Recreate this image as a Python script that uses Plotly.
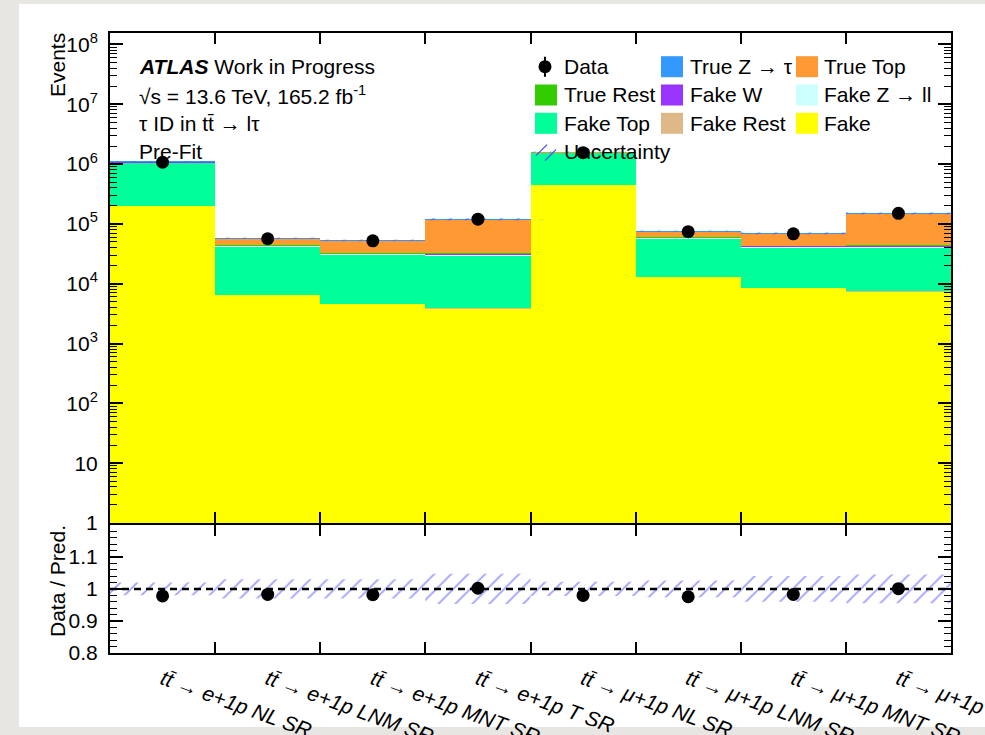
import plotly.graph_objects as go

# ---------------- data ----------------
categories = [
    "tt̄ → e+1p NL SR", "tt̄ → e+1p LNM SR", "tt̄ → e+1p MNT SR", "tt̄ → e+1p T SR",
    "tt̄ → μ+1p NL SR", "tt̄ → μ+1p LNM SR", "tt̄ → μ+1p MNT SR", "tt̄ → μ+1p T SR",
]
fake = [2.0e5, 6500, 4600, 3800, 4.5e5, 13000, 8500, 7400]
fake_rest = [1500, 80, 60, 50, 3000, 150, 100, 90]
fake_top = [8.55e5, 35000, 26000, 26000, 1.085e6, 43000, 32000, 33000]
fake_zll = [6000, 1500, 1200, 1200, 8000, 2000, 1500, 1500]
fake_w = [20000, 900, 700, 700, 25000, 1200, 900, 900]
true_rest = [500, 300, 300, 600, 600, 300, 300, 700]
true_top = [12000, 13000, 20000, 87000, 10000, 16000, 26000, 106000]
true_ztau = [300, 100, 100, 200, 400, 100, 100, 200]
data = [1071200, 56400, 52000, 119800, 1550000, 73900, 68200, 149900]
unc_rel = [0.02, 0.03, 0.03, 0.047, 0.022, 0.026, 0.04, 0.045]

y_tick_vals = [1, 10, 1e2, 1e3, 1e4, 1e5, 1e6, 1e7, 1e8]
y_tick_text = ["1", "10", "10<sup>2</sup>", "10<sup>3</sup>", "10<sup>4</sup>", "10<sup>5</sup>",
               "10<sup>6</sup>", "10<sup>7</sup>", "10<sup>8</sup>"]
ratio_tick_vals = [0.8, 0.9, 1.0, 1.1]
ratio_tick_text = ["0.8", "0.9", "1", "1.1"]

# stacking order (bottom -> top)
samples = [
    ("Fake", fake, "#ffff00"),
    ("Fake Rest", fake_rest, "#deb887"),
    ("Fake Top", fake_top, "#00ff99"),
    ("Fake Z → ll", fake_zll, "#ccffff"),
    ("Fake W", fake_w, "#9933ff"),
    ("True Rest", true_rest, "#33cc00"),
    ("True Top", true_top, "#ff9933"),
    ("True Z → τ", true_ztau, "#3399ff"),
]

n = len(categories)
xs = list(range(n))
total = [sum(s[1][i] for s in samples) for i in range(n)]
ratio = [data[i] / total[i] for i in range(n)]

# ---------------- geometry helpers ----------------
W, H = 985, 735
L, R, T, B = 110, 951, 33, 653


def fx(px):
    return (px - L) / (R - L)


def fy(py):
    return (B - py) / (B - T)


FONT = "Liberation Sans, Arial, Helvetica, sans-serif"
HATCH = "#4848ff"
PATTERN = dict(shape="/", fgcolor=HATCH, size=12, solidity=0.16, fillmode="overlay")

fig = go.Figure()

for name, vals, col in samples:
    fig.add_trace(go.Bar(x=xs, y=vals, name=name, marker=dict(color=col, line=dict(width=0)),
                         width=1.0, xaxis="x", yaxis="y", showlegend=False))

# uncertainty band on main panel
bx, by = [], []
for i in range(n):
    lo, hi = total[i] * (1 - unc_rel[i]), total[i] * (1 + unc_rel[i])
    bx += [i - 0.5, i + 0.5, i + 0.5, i - 0.5, i - 0.5, None]
    by += [lo, lo, hi, hi, lo, None]
fig.add_trace(go.Scatter(x=bx, y=by, mode="lines", fill="toself", fillcolor="rgba(0,0,0,0)",
                         line=dict(width=0), xaxis="x", yaxis="y", showlegend=False,
                         fillpattern=PATTERN))

# data on main panel
fig.add_trace(go.Scatter(x=xs, y=data, mode="markers", name="Data",
                         marker=dict(color="black", size=13),
                         error_y=dict(type="data", array=[d ** 0.5 for d in data], color="black",
                                      thickness=2, width=0),
                         xaxis="x", yaxis="y", showlegend=False))

# ratio band
rx, ry = [], []
for i in range(n):
    lo, hi = 1 - unc_rel[i], 1 + unc_rel[i]
    rx += [i - 0.5, i + 0.5, i + 0.5, i - 0.5, i - 0.5, None]
    ry += [lo, lo, hi, hi, lo, None]
fig.add_trace(go.Scatter(x=rx, y=ry, mode="lines", fill="toself", fillcolor="rgba(0,0,0,0)",
                         line=dict(width=0), xaxis="x2", yaxis="y2", showlegend=False,
                         fillpattern=PATTERN))
fig.add_trace(go.Scatter(x=[-0.5, n - 0.5], y=[1, 1], mode="lines",
                         line=dict(color="black", width=2.5, dash="7px,5px"),
                         xaxis="x2", yaxis="y2", showlegend=False))
fig.add_trace(go.Scatter(x=xs, y=ratio, mode="markers", marker=dict(color="black", size=13),
                         error_y=dict(type="data", array=[r / d ** 0.5 for r, d in zip(ratio, data)],
                                      color="black", thickness=2, width=0),
                         xaxis="x2", yaxis="y2", showlegend=False))

boundaries = [i + 0.5 for i in range(n - 1)]
tick_labels = ["<i>" + c + "</i>" for c in categories]
log_minor = [k * 10 ** e for e in range(0, 9) for k in range(2, 10)]
ratio_minor = [round(0.8 + 0.02 * k, 2) for k in range(1, 20)]

axis_common = dict(showline=True, linecolor="black", linewidth=2, mirror="ticks",
                   showgrid=False, zeroline=False,
                   tickfont=dict(family=FONT, size=21, color="black"))

fig.update_layout(
    width=W, height=H,
    margin=dict(l=L, r=W - R, t=T, b=H - B, autoexpand=False),
    paper_bgcolor="#e8e6e2", plot_bgcolor="white",
    barmode="stack", bargap=0,
    font=dict(family=FONT, size=21, color="black"),
    xaxis=dict(domain=[0, 1], anchor="y", range=[-0.5, n - 0.5], showticklabels=False,
               ticks="", minor=dict(tickvals=boundaries, ticks="inside", ticklen=11,
                                    tickcolor="black", tickwidth=1.5),
               **axis_common),
    yaxis=dict(domain=[fy(523), 1], anchor="x", type="log", range=[0, 8.19],
               tickmode="array", tickvals=y_tick_vals, ticktext=y_tick_text,
               ticks="inside", ticklen=13, tickwidth=1.5, tickcolor="black",
               ticklabelstandoff=6,
               minor=dict(tickvals=log_minor, ticks="inside", ticklen=7, tickcolor="black",
                          tickwidth=1),
               **axis_common),
    xaxis2=dict(domain=[0, 1], anchor="y2", range=[-0.5, n - 0.5], matches="x",
                tickmode="array", tickvals=xs, ticktext=tick_labels, ticks="", tickangle=20,
                ticklabelstandoff=4, ticklabeloverflow="allow",
                minor=dict(tickvals=boundaries, ticks="inside", ticklen=11,
                           tickcolor="black", tickwidth=1.5),
                **axis_common),
    yaxis2=dict(domain=[0, fy(525)], anchor="x2", range=[0.8, 1.1995],
                tickmode="array", tickvals=ratio_tick_vals, ticktext=ratio_tick_text,
                ticks="inside", ticklen=13, tickwidth=1.5, tickcolor="black",
                ticklabelstandoff=6,
                minor=dict(tickvals=ratio_minor, ticks="inside", ticklen=7, tickcolor="black",
                           tickwidth=1),
                **axis_common),
)

shapes = []
# white canvas
shapes.append(dict(type="rect", xref="paper", yref="paper", x0=fx(19), x1=fx(990), y0=fy(727),
                   y1=fy(4), fillcolor="white", line=dict(width=0), layer="below"))

annotations = []


def text(px, py, s, size=21, anchor="left", angle=0):
    annotations.append(dict(x=fx(px), y=fy(py), xref="paper", yref="paper", text=s,
                            showarrow=False, xanchor=anchor, yanchor="middle", textangle=angle,
                            font=dict(family=FONT, size=size, color="black")))


text(137, 67, "<b><i>ATLAS</i></b> Work in Progress")
text(137, 95, "√s = 13.6 TeV, 165.2 fb<sup>-1</sup>")
text(137, 124, "τ ID in tt̄ → lτ")
text(137, 152, "Pre-Fit")
text(57, 65, "Events", anchor="center", angle=-90)
text(57, 581, "Data / Pred.", anchor="center", angle=-90)

# manual legend
cols_sq = [535, 661, 796]
cols_tx = [562, 688, 822]
rows_y = [66.7, 95, 123.3, 151.7]
colors = {s[0]: s[2] for s in samples}
legend_items = [
    (0, 0, "Data"), (0, 1, "True Z → τ"), (0, 2, "True Top"),
    (1, 0, "True Rest"), (1, 1, "Fake W"), (1, 2, "Fake Z → ll"),
    (2, 0, "Fake Top"), (2, 1, "Fake Rest"), (2, 2, "Fake"),
    (3, 0, "Uncertainty"),
]
for r, c, name in legend_items:
    yc = rows_y[r]
    x0 = cols_sq[c]
    if name == "Data":
        shapes.append(dict(type="line", xref="paper", yref="paper", x0=fx(x0 + 10), x1=fx(x0 + 10),
                           y0=fy(yc - 10), y1=fy(yc + 10), line=dict(color="black", width=2)))
        shapes.append(dict(type="circle", xref="paper", yref="paper", x0=fx(x0 + 3.5),
                           x1=fx(x0 + 16.5), y0=fy(yc + 6.5), y1=fy(yc - 6.5),
                           fillcolor="black", line=dict(width=0)))
    elif name == "Uncertainty":
        for (a, b, cc, d) in [(x0 + 1, yc + 4, x0 + 12, yc - 7), (x0 + 10, yc + 9, x0 + 21, yc - 2)]:
            shapes.append(dict(type="line", xref="paper", yref="paper", x0=fx(a), x1=fx(cc),
                               y0=fy(b), y1=fy(d), line=dict(color=HATCH, width=1.2)))
    else:
        shapes.append(dict(type="rect", xref="paper", yref="paper", x0=fx(x0), x1=fx(x0 + 22),
                           y0=fy(yc + 10.5), y1=fy(yc - 10.5), fillcolor=colors[name],
                           line=dict(width=0)))
    text(cols_tx[c], yc, name)

fig.update_layout(shapes=shapes, annotations=annotations)

fig.write_html("out.html")
